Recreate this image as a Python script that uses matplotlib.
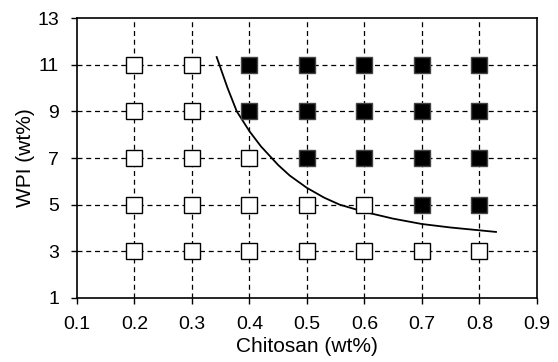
import matplotlib
matplotlib.use("Agg")
import matplotlib.pyplot as plt

plt.rcParams['font.family'] = ['Liberation Sans', 'DejaVu Sans']

# open squares (no gel) and filled squares (gel)
open_x = [0.2, 0.3, 0.2, 0.3, 0.2, 0.3, 0.4,
          0.2, 0.3, 0.4, 0.5, 0.6,
          0.2, 0.3, 0.4, 0.5, 0.6, 0.7, 0.8]
open_y = [11, 11, 9, 9, 7, 7, 7,
          5, 5, 5, 5, 5,
          3, 3, 3, 3, 3, 3, 3]
filled_x = [0.4, 0.5, 0.6, 0.7, 0.8,
            0.4, 0.5, 0.6, 0.7, 0.8,
            0.5, 0.6, 0.7, 0.8,
            0.7, 0.8]
filled_y = [11, 11, 11, 11, 11,
            9, 9, 9, 9, 9,
            7, 7, 7, 7,
            5, 5]

# boundary curve
curve_x = [0.343, 0.352, 0.362, 0.378, 0.40, 0.42, 0.45, 0.47, 0.50, 0.53,
           0.557, 0.60, 0.65, 0.70, 0.75, 0.80, 0.829]
curve_y = [11.33, 10.7, 10.0, 9.0, 8.15, 7.5, 6.7, 6.25, 5.72, 5.3,
           5.0, 4.69, 4.4, 4.17, 4.02, 3.9, 3.83]

xticks = [0.1, 0.2, 0.3, 0.4, 0.5, 0.6, 0.7, 0.8, 0.9]
yticks = [1, 3, 5, 7, 9, 11, 13]

fig = plt.figure(figsize=(5.58, 3.62), dpi=100)
ax = fig.add_axes([0.138, 0.177, 0.824, 0.773])

for v in xticks[1:-1]:
    ax.axvline(v, color='black', ls=(0, (4, 3)), lw=0.9, zorder=1)
for v in yticks[1:-1]:
    ax.axhline(v, color='black', ls=(0, (4, 3)), lw=0.9, zorder=1)

ax.plot(curve_x, curve_y, color='black', lw=1.3, zorder=2)
ax.plot(open_x, open_y, 's', ms=11, mfc='white', mec='black', mew=1.0,
        ls='none', zorder=3)
ax.plot(filled_x, filled_y, 's', ms=11, mfc='black', mec='#444444', mew=1.0,
        ls='none', zorder=3)

ax.set_xlim(0.1, 0.9)
ax.set_ylim(1, 13)
ax.set_xticks(xticks)
ax.set_xticklabels([f'{v:.1f}' for v in xticks])
ax.set_yticks(yticks)
ax.tick_params(direction='out', length=4, width=1, labelsize=14, pad=9)
ax.set_xlabel('Chitosan (wt%)', fontsize=15, labelpad=3)
ax.set_ylabel('WPI (wt%)', fontsize=15, labelpad=1.5)
for s in ax.spines.values():
    s.set_linewidth(1.2)

fig.savefig('out.png', dpi=100)
